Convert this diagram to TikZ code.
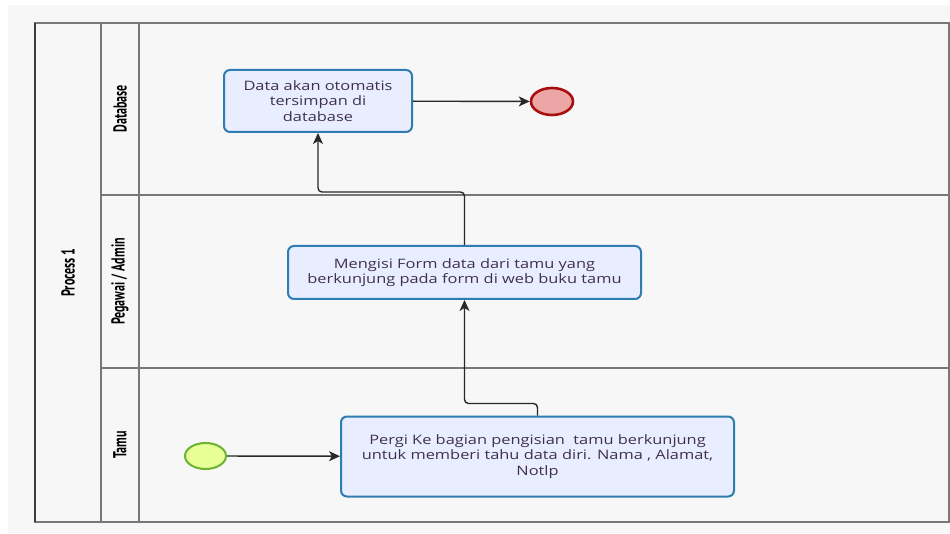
\documentclass[tikz,border=0pt]{standalone}
\usepackage{fontspec}
\setmainfont[FakeStretch=1.26]{Open Sans}
\newfontfamily\lanefont[FakeStretch=0.8]{PT Sans}
\usetikzlibrary{shapes.geometric,arrows.meta}

\definecolor{canvas}{RGB}{247,247,247}
\definecolor{taskfill}{RGB}{232,238,255}
\definecolor{taskline}{RGB}{46,124,176}
\definecolor{tasktext}{RGB}{64,48,80}
\definecolor{endfill}{RGB}{236,166,166}
\definecolor{endline}{RGB}{168,16,16}
\definecolor{startfill}{RGB}{230,255,150}
\definecolor{startline}{RGB}{108,180,48}
\definecolor{laneline}{RGB}{120,120,120}
\definecolor{poolline}{RGB}{60,60,60}
\definecolor{flowline}{RGB}{40,40,40}

\tikzset{
  task/.style={draw=taskline, line width=2pt, fill=taskfill, rounded corners=6pt,
    align=center, text=tasktext, inner sep=2pt,
    font=\fontsize{13}{15.5}\selectfont},
  startev/.style={ellipse, draw=startline, line width=2pt, fill=startfill,
    minimum width=41pt, minimum height=26pt, inner sep=0pt},
  endev/.style={ellipse, draw=endline, line width=2.6pt, fill=endfill,
    minimum width=42pt, minimum height=27pt, inner sep=0pt},
  flow/.style={draw=flowline, line width=1.4pt, rounded corners=4pt,
    -{Stealth[length=11pt,width=10pt,inset=3pt]}},
  lanelabel/.style={inner sep=0pt, text=black,
    font=\lanefont\bfseries\fontsize{15}{17}\selectfont},
  lanerule/.style={draw=laneline, line width=1.1pt}
}

\begin{document}
\begin{tikzpicture}[x=1pt, y=-1pt]
  % page and canvas
  \fill[white] (0,0) rectangle (950,534);
  \useasboundingbox (0,0) rectangle (950,534);
  \fill[canvas] (8,5) rectangle (950,533);

  % pool and lanes
  \draw[lanerule] (35,23) rectangle (949,522);
  \draw[poolline, line width=1.3pt] (35,23) -- (35,522);
  \draw[lanerule] (101,23) -- (101,522);
  \draw[lanerule] (139,23) -- (139,522);
  \draw[lanerule] (101,195) -- (949,195);
  \draw[lanerule] (101,368) -- (949,368);

  \node[lanelabel] (proc) at (68,272.5) {\scalebox{1.25}[1]{\rotatebox{90}{Process 1}}};
  \node[lanelabel] (laneDb) at (120,109) {\scalebox{1.25}[1]{\rotatebox{90}{Database}}};
  \node[lanelabel] (lanePeg) at (120,281.5) {\scalebox{1.25}[1]{\rotatebox{90}{Pegawai / Admin}}};
  \node[lanelabel] (laneTamu) at (120,445) {\scalebox{1.25}[1]{\rotatebox{90}{Tamu}}};

  % activities and events
  \node[task, minimum width=188pt, minimum height=62pt] (store) at (318,101)
    {Data akan otomatis\\tersimpan di\\database};
  \node[endev] (finish) at (552,101.5) {};
  \node[task, minimum width=353pt, minimum height=53pt] (form) at (464.5,272.5)
    {Mengisi Form data dari tamu yang\\berkunjung pada form di web buku tamu};
  \node[task, minimum width=393pt, minimum height=80pt] (visit) at (537.5,456.5)
    {Pergi Ke bagian pengisian\ \ tamu berkunjung\\untuk memberi tahu data diri. Nama , Alamat,\\Notlp};
  \node[startev] (begin) at (205.5,456) {};

  % sequence flows
  \draw[flow] (begin) -- (visit);
  \draw[flow] (visit.north) -- ++(0,-12) -| (form.south);
  \draw[flow] (form.north) -- ++(0,-53) -| (store.south);
  \draw[flow] (store) -- (finish);
\end{tikzpicture}
\end{document}
